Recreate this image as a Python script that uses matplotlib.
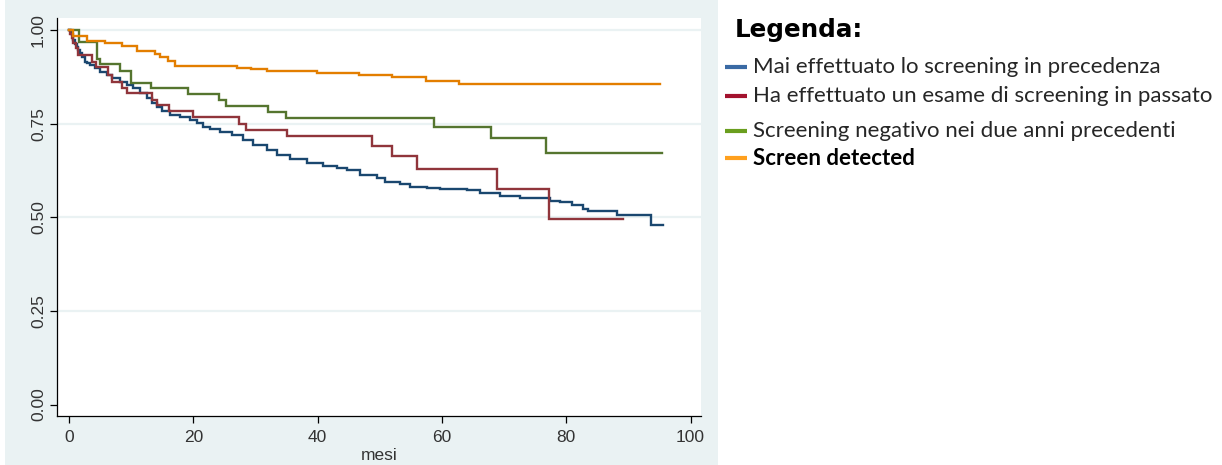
import matplotlib
matplotlib.use("Agg")
import matplotlib.pyplot as plt
from matplotlib.patches import Rectangle
from matplotlib.lines import Line2D

# Kaplan-Meier estimates by screening history (months, survival)
mai_t = [0, 0.32, 0.69, 0.97, 1.24, 1.45, 1.77, 2.09, 2.57, 2.96,
         3.38, 4.18, 4.99, 6.07, 6.87, 8.20, 9.28, 10.34, 11.42, 12.50,
         13.30, 14.11, 14.91, 16.25, 17.86, 19.47, 20.54, 21.61, 22.68, 24.29,
         26.17, 28.04, 29.65, 31.81, 33.41, 35.55, 38.24, 40.91, 43.07, 44.68,
         46.82, 49.50, 50.84, 53.25, 54.86, 57.55, 59.69, 63.98, 66.12, 69.34,
         72.55, 77.38, 78.99, 80.87, 82.74, 83.54, 88.11, 93.63, 95.61]
mai_s = [1.000, 0.989, 0.973, 0.963, 0.955, 0.947, 0.938, 0.928, 0.915, 0.912,
         0.907, 0.898, 0.889, 0.880, 0.871, 0.862, 0.853, 0.845, 0.831, 0.818,
         0.804, 0.794, 0.785, 0.773, 0.767, 0.760, 0.751, 0.742, 0.736, 0.728,
         0.720, 0.706, 0.693, 0.680, 0.665, 0.656, 0.646, 0.637, 0.631, 0.626,
         0.613, 0.604, 0.595, 0.588, 0.582, 0.579, 0.575, 0.572, 0.564, 0.556,
         0.552, 0.544, 0.541, 0.532, 0.523, 0.517, 0.506, 0.479, 0.479]

pass_t = [0, 0.24, 0.48, 0.72, 1.05, 1.37, 3.65, 4.42, 6.32, 6.87,
          8.48, 9.28, 13.35, 14.11, 16.09, 20.00, 27.32, 28.44, 35.12, 48.68,
          52.01, 56.05, 68.81, 77.25, 89.17]
pass_s = [1.000, 0.989, 0.979, 0.965, 0.952, 0.933, 0.915, 0.902, 0.880, 0.862,
          0.845, 0.831, 0.813, 0.800, 0.785, 0.767, 0.749, 0.732, 0.716, 0.690,
          0.664, 0.628, 0.575, 0.495, 0.495]

neg_t = [0, 1.66, 4.55, 4.91, 8.20, 9.97, 13.21, 19.11, 24.10, 25.18,
         32.09, 34.91, 58.72, 67.81, 76.66, 95.40]
neg_s = [1.000, 0.967, 0.923, 0.908, 0.891, 0.859, 0.844, 0.828, 0.813, 0.796,
         0.782, 0.764, 0.741, 0.711, 0.672, 0.672]

det_t = [0, 0.69, 2.85, 5.79, 8.48, 10.89, 13.83, 14.64, 15.93, 17.05,
         27.0, 29.2, 31.8, 39.9, 46.7, 52.0, 57.4, 62.7, 95.08]
det_s = [1.000, 0.985, 0.971, 0.964, 0.958, 0.945, 0.935, 0.929, 0.917, 0.905,
         0.899, 0.895, 0.891, 0.884, 0.879, 0.875, 0.865, 0.856, 0.856]

labels = ["Mai effettuato lo screening in precedenza",
          "Ha effettuato un esame di screening in passato",
          "Screening negativo nei due anni precedenti",
          "Screen detected"]
line_colors = ["#1A476F", "#90353B", "#55752F", "#E37E00"]
key_colors = ["#3A6AA4", "#A3122E", "#6A9E1E", "#FFA01E"]

x_ticks = [0, 20, 40, 60, 80, 100]
y_ticks = [0.00, 0.25, 0.50, 0.75, 1.00]

W, H = 1222, 465
fig = plt.figure(figsize=(W / 100, H / 100), dpi=100)
fig.patch.set_facecolor("white")

# graph region background
fig.add_artist(Rectangle((5 / W, 0), 713 / W, 1, transform=fig.transFigure,
                         facecolor="#EAF2F3", edgecolor="none", zorder=0))

ax = fig.add_axes([57 / W, 49 / H, 644 / W, 398 / H])
ax.set_facecolor("white")
ax.set_xlim(-1.93, 101.67)
ax.set_ylim(-0.0304, 1.032)

for yv in y_ticks[1:]:
    ax.axhline(yv, color="#EAF2F3", lw=1.6, zorder=1)

series = [(mai_t, mai_s), (pass_t, pass_s), (neg_t, neg_s), (det_t, det_s)]
for (t, s), c in zip(series, line_colors):
    ax.step(t, s, where="post", color=c, lw=1.7, zorder=3,
            solid_joinstyle="miter")

for side in ("top", "right"):
    ax.spines[side].set_visible(False)
for side in ("left", "bottom"):
    ax.spines[side].set_color("black")
    ax.spines[side].set_linewidth(0.9)

tick_font = dict(family="Liberation Sans", size=12.5)
ax.set_xticks(x_ticks)
ax.set_xticklabels([str(v) for v in x_ticks], **tick_font, color="#333333")
ax.set_yticks(y_ticks)
ax.set_yticklabels([f"{v:.2f}" for v in y_ticks], rotation=90, va="center",
                   **tick_font, color="#333333")
ax.tick_params(axis="both", direction="out", length=5, width=0.9, color="black")
ax.tick_params(axis="x", pad=5)
ax.tick_params(axis="y", pad=3)
ax.set_xlabel("mesi", family="Liberation Sans", size=12.5, color="#333333",
              labelpad=2.5)

# legend block
fig.text(735 / W, 1 - 30 / H, "Legenda:", family="DejaVu Sans",
         fontweight="bold", fontsize=17.7, color="black", va="center", ha="left")
rows_y = [67, 96, 131, 158]
for lab, c, ry, i in zip(labels, key_colors, rows_y, range(4)):
    yf = 1 - ry / H
    fig.add_artist(Line2D([725 / W, 747 / W], [yf, yf], transform=fig.transFigure,
                          color=c, lw=3, solid_capstyle="butt"))
    fig.text(753 / W, yf, lab, family="Lato", fontsize=16,
             fontweight="bold" if i == 3 else "normal",
             color="black" if i == 3 else "#262626", va="center", ha="left")

fig.savefig("out.png", dpi=100, facecolor="white")
